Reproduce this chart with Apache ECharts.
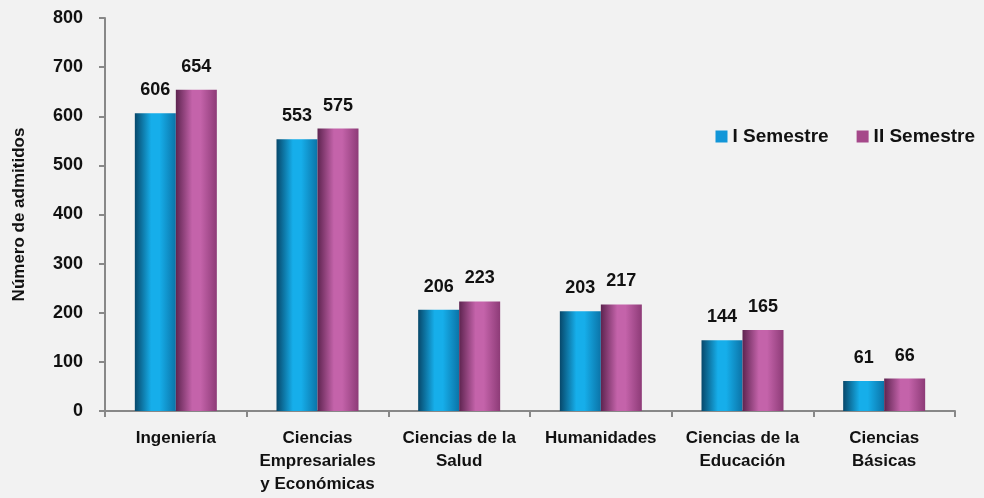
<!DOCTYPE html>
<html>
<head>
<meta charset="utf-8">
<script src="https://cdn.jsdelivr.net/npm/echarts@6/dist/echarts.min.js"></script>
<style>
  html, body { margin: 0; padding: 0; background: #f2f2f2; }
  #chart { width: 984px; height: 498px; }
</style>
</head>
<body>
<div id="chart"></div>
<script>
// datos
const categorias = ['Ingeniería', 'Ciencias\nEmpresariales\ny Económicas', 'Ciencias de la\nSalud', 'Humanidades', 'Ciencias de la\nEducación', 'Ciencias\nBásicas'];
const semestre1 = [606, 553, 206, 203, 144, 61];
const semestre2 = [654, 575, 223, 217, 165, 66];
const nombres = ['I Semestre', 'II Semestre'];

const fuente = '"Liberation Sans", Arial, sans-serif';

// degradado horizontal para el efecto de cilindro
function cilindro(oscuro, claro, medio) {
    return new echarts.graphic.LinearGradient(0, 0, 1, 0, [
        { offset: 0, color: oscuro },
        { offset: 0.4, color: claro },
        { offset: 0.6, color: claro },
        { offset: 1, color: medio }
    ]);
}

const chart = echarts.init(document.getElementById('chart'));
const etiqueta = {
    show: true,
    position: 'top',
    distance: 14,
    fontFamily: fuente,
    fontWeight: 'bold',
    fontSize: 18,
    color: '#111'
};

chart.setOption({
    backgroundColor: '#f2f2f2',
    animation: false,
    grid: { left: 105, right: 29, top: 18, bottom: 87 },
    legend: {
        data: [
            { name: nombres[0], itemStyle: { color: '#1296d8' } },
            { name: nombres[1], itemStyle: { color: '#a5488a' } }
        ],
        right: 4,
        top: 122,
        itemWidth: 12,
        itemHeight: 12,
        itemGap: 28,
        icon: 'rect',
        textStyle: { fontFamily: fuente, fontWeight: 'bold', fontSize: 19, color: '#111' }
    },
    xAxis: {
        type: 'category',
        data: categorias,
        axisLine: { lineStyle: { color: '#888', width: 2 } },
        axisTick: { show: true, length: 6, lineStyle: { color: '#888', width: 2 } },
        axisLabel: {
            fontFamily: fuente, fontWeight: 'bold', fontSize: 17, color: '#111',
            lineHeight: 23, margin: 16, interval: 0
        }
    },
    yAxis: {
        type: 'value',
        min: 0, max: 800, interval: 100,
        name: 'Número de admitidos',
        nameLocation: 'middle',
        nameGap: 77,
        nameRotate: 90,
        nameTextStyle: { fontFamily: fuente, fontWeight: 'bold', fontSize: 17, color: '#111' },
        axisLine: { show: true, lineStyle: { color: '#888', width: 2 } },
        axisTick: { show: true, length: 6, lineStyle: { color: '#888', width: 2 } },
        splitLine: { show: false },
        axisLabel: { fontFamily: fuente, fontWeight: 'bold', fontSize: 18, color: '#111', margin: 22 }
    },
    series: [
        {
            name: nombres[0],
            type: 'bar',
            data: semestre1,
            barWidth: 41,
            barGap: '0%',
            itemStyle: { color: cilindro('#07486b', '#16aeea', '#0b74a8') },
            label: etiqueta
        },
        {
            name: nombres[1],
            type: 'bar',
            data: semestre2,
            barWidth: 41,
            itemStyle: { color: cilindro('#5e2450', '#c463aa', '#8d3b77') },
            label: etiqueta
        }
    ]
});
</script>
</body>
</html>
